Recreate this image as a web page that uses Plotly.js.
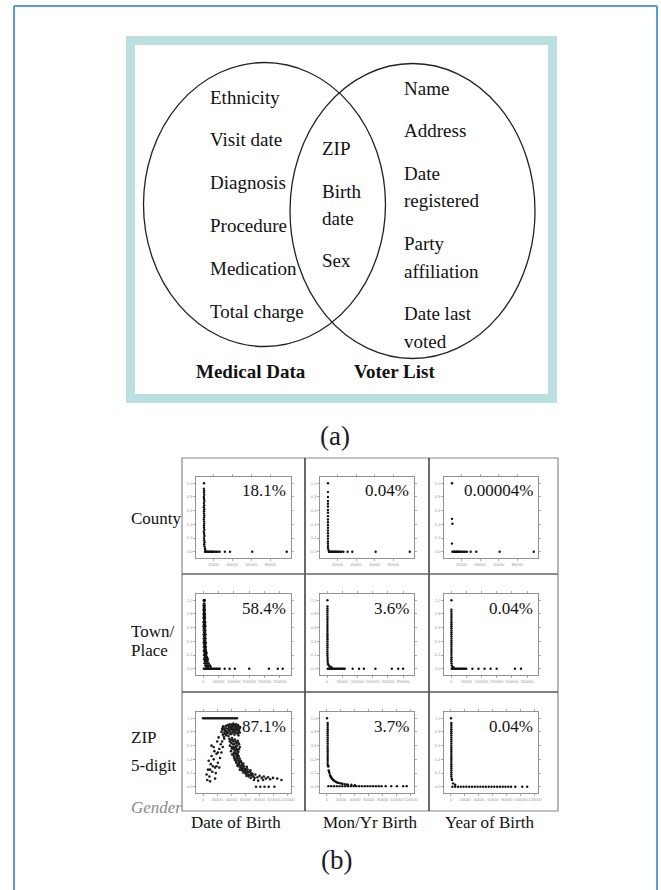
<!DOCTYPE html>
<html><head><meta charset="utf-8">
<script src="https://cdn.plot.ly/plotly-3.0.1.min.js"></script>
<style>html,body{margin:0;padding:0;background:#fff}</style>
</head><body><div id="chart" style="width:661px;height:890px"></div>
<script>
// ---------- text content ----------
const medicalOnly = ["Ethnicity","Visit date","Diagnosis","Procedure","Medication","Total charge"];
const sharedFields = ["ZIP","Birth","date","Sex"];
const voterOnly = ["Name","Address","Date","registered","Party","affiliation","Date last","voted"];
const setLabels = ["Medical Data","Voter List"];
const panelTags = ["(a)","(b)"];
const rowLabelLines = [["County"],["Town/","Place"],["ZIP","5-digit"]];
const colLabels = ["Date of Birth","Mon/Yr Birth","Year of Birth"];
const footLabel = "Gender";
const pctLabels = [["18.1%","0.04%","0.00004%"],["58.4%","3.6%","0.04%"],["87.1%","3.7%","0.04%"]];

// ---------- axis ticks ----------
const yTicks = [0,0.2,0.4,0.6,0.8,1.0];
const xTicksCounty = [20000,40000,60000,80000];
const xTicksTown = [0,50000,100000,150000,200000,250000];
const xTicksZip = [0,20000,40000,60000,80000,100000,120000];

// ---------- scatter data [population, fraction identifiable] ----------
const countyDob = [[10000,1.0],
 [9800,0.92],[10100,0.89],[9900,0.86],[10200,0.83],[9800,0.80],[10000,0.77],[10300,0.74],[9900,0.71],
 [10100,0.68],[9800,0.65],[10200,0.62],[10000,0.59],[9900,0.56],[10300,0.53],[10000,0.50],[9800,0.47],
 [10100,0.44],[10200,0.41],[9900,0.38],[10000,0.35],[10300,0.32],[9800,0.29],[10100,0.26],[10400,0.23],
 [9900,0.20],[10200,0.17],[10500,0.14],[10100,0.11],[10600,0.08],[10900,0.05],[11300,0.03],
 [11000,0],[12000,0],[13000,0],[14000,0],[15000,0],[16000,0],[17000,0],[18000,0],[19000,0],[20000,0],
 [21500,0],[23000,0],[24500,0],[26500,0],[32000,0],[37500,0],[61000,0],[97500,0]];
const countyMonYr = [[10000,1.0],
 [10000,0.87],[10000,0.80],[10000,0.74],[10000,0.70],[10000,0.66],[10000,0.61],[10000,0.57],[10000,0.52],
 [10000,0.47],[10000,0.43],[10000,0.39],[10000,0.35],[10000,0.31],[10000,0.27],[10000,0.23],[10000,0.19],
 [10000,0.15],[10000,0.12],[10000,0.09],[10000,0.06],[10500,0.03],
 [11000,0],[12000,0],[13000,0],[14000,0],[15000,0],[16000,0],[17000,0],[18000,0],[19000,0],[20000,0],
 [21500,0],[23000,0],[24500,0],[26500,0],[31000,0],[36000,0],[61000,0],[97500,0]];
const countyYear = [[10000,1.0],[10000,0.48],[10500,0.41],[10000,0.12],
 [10500,0],[11500,0],[12500,0],[13500,0],[14500,0],[15500,0],[16500,0],[17500,0],[18500,0],[19500,0],
 [21000,0],[22500,0],[24000,0],[26000,0],[30000,0],[36000,0],[61000,0],[97500,0]];

const townDob = [[2000,1.0],[3500,1.0],[5000,1.0],[2500,0.99],[4000,0.99],
 [2000,0.95],[4000,0.95],[1000,0.92],[3000,0.92],[5000,0.92],[2000,0.89],[4500,0.89],
 [1000,0.86],[3000,0.86],[5500,0.86],[2000,0.83],[4500,0.83],[1000,0.80],[3500,0.80],[6000,0.80],
 [2000,0.77],[5000,0.77],[1000,0.74],[3500,0.74],[6000,0.74],[2500,0.71],[5000,0.71],
 [1000,0.68],[4000,0.68],[6500,0.68],[2500,0.65],[5500,0.65],[1000,0.62],[4000,0.62],[7000,0.62],
 [2500,0.59],[5500,0.59],[1500,0.56],[4500,0.56],[7000,0.56],[3000,0.53],[6000,0.53],
 [1500,0.50],[4500,0.50],[7500,0.50],[3000,0.47],[6000,0.47],[1500,0.44],[4500,0.44],[8000,0.44],
 [3000,0.41],[6500,0.41],[1500,0.38],[5000,0.38],[8500,0.38],[3500,0.35],[7000,0.35],
 [2000,0.32],[5500,0.32],[9000,0.32],[4000,0.29],[7500,0.29],[2000,0.26],[6000,0.26],[9500,0.26],
 [4500,0.23],[8000,0.23],[11000,0.23],[2500,0.20],[6500,0.20],[10000,0.20],
 [5000,0.17],[9000,0.17],[12500,0.17],[3000,0.14],[7500,0.14],[11500,0.14],[15000,0.14],
 [5500,0.11],[10000,0.11],[14000,0.11],[4000,0.08],[9000,0.08],[13000,0.08],[18000,0.08],
 [7000,0.05],[12000,0.05],[17000,0.05],[22000,0.05],[10000,0.03],[16000,0.03],[24000,0.03],
 [2000,0],[6000,0],[10000,0],[14000,0],[18000,0],[22000,0],[26000,0],[30000,0],[34000,0],[38000,0],
 [42000,0],[46000,0],[50000,0],[54000,0],[70000,0],[86000,0],[103000,0],[150000,0],[214000,0],[243000,0],[259000,0]];
const townMonYr = [[1000,1.0],
 [1000,0.91],[1000,0.88],[1000,0.85],[1000,0.82],[1000,0.79],[1000,0.76],[1000,0.73],[1000,0.70],
 [1000,0.67],[1000,0.64],[1000,0.61],[1000,0.58],[1000,0.55],[1000,0.52],[1000,0.49],[1000,0.46],
 [1000,0.43],[1000,0.40],[1000,0.37],[1000,0.34],[1000,0.31],[1000,0.28],[1000,0.25],[1000,0.22],
 [1000,0.19],[1500,0.16],[1500,0.13],[2000,0.10],[2500,0.07],[4000,0.06],[7000,0.04],[10000,0.03],[15000,0.02],
 [2000,0],[6000,0],[10000,0],[14000,0],[18000,0],[22000,0],[26000,0],[30000,0],[34000,0],[38000,0],
 [42000,0],[46000,0],[50000,0],[54000,0],[58000,0],
 [84000,0],[105000,0],[121000,0],[159000,0],[213000,0],[234000,0],[250000,0]];
const townYear = [[1000,1.0],
 [1000,0.86],[1000,0.83],[1000,0.80],[1000,0.77],[1000,0.74],[1000,0.71],[1000,0.68],[1000,0.65],
 [1000,0.62],[1000,0.59],[1000,0.56],[1000,0.53],[1000,0.50],[1000,0.47],[1000,0.44],[1000,0.41],
 [1000,0.38],[1000,0.35],[1000,0.32],[1000,0.29],[1000,0.26],[1000,0.23],[1000,0.20],[1000,0.17],
 [1000,0.14],[1000,0.11],[1500,0.08],[2000,0.05],[4000,0.03],[8000,0.02],
 [2000,0],[6000,0],[10000,0],[14000,0],[18000,0],[22000,0],[26000,0],[30000,0],[34000,0],[38000,0],
 [42000,0],[46000,0],[50000,0],[70000,0],[90000,0],[110000,0],[130000,0],[150000,0],[210000,0],[230000,0]];

const zipDob = [
 [0,1],[2000,1],[4000,1],[6000,1],[8000,1],[10000,1],[12000,1],[14000,1],[16000,1],[18000,1],[20000,1],[22000,1],
 [24000,1],[26000,1],[28000,1],[30000,1],[32000,1],[34000,1],[36000,1],[38000,1],[40000,1],[42000,1],[44000,1],[46000,1],[48000,1],
 [26000,0.80],[27500,0.83],[29000,0.86],[30500,0.84],[32000,0.88],[33500,0.85],[35000,0.90],[36500,0.87],[38000,0.89],
 [39500,0.86],[41000,0.91],[42500,0.88],[44000,0.90],[45500,0.87],[47000,0.89],[48500,0.86],[50000,0.88],[51500,0.85],
 [28000,0.76],[30000,0.79],[32500,0.81],[34500,0.78],[37000,0.82],[39000,0.80],[41500,0.83],[43500,0.81],[46000,0.84],
 [48000,0.82],[50500,0.80],[29500,0.73],[33000,0.75],[36000,0.74],[40000,0.77],[44500,0.76],[49000,0.78],
 [27000,0.85],[28500,0.88],[31000,0.82],[33000,0.89],[34000,0.80],[36000,0.84],[37500,0.91],[39000,0.84],[40500,0.89],
 [42000,0.85],[43000,0.92],[44500,0.83],[46500,0.91],[47500,0.84],[49500,0.90],[51000,0.83],[52500,0.87],
 [31500,0.77],[35500,0.79],[38500,0.77],[42500,0.79],[45000,0.80],[47500,0.78],[50000,0.75],[52000,0.79],
 [37000,0.70],[39000,0.68],[41000,0.71],[43000,0.66],[45000,0.69],[47000,0.64],[49000,0.67],[51000,0.62],
 [38000,0.66],[40000,0.64],[42000,0.68],[44000,0.62],[46000,0.66],[48000,0.60],[50000,0.64],[52000,0.58],
 [38000,0.60],[40500,0.58],[42500,0.62],[44500,0.56],[46500,0.59],[48500,0.54],
 [41000,0.56],[43000,0.58],[45000,0.53],[47000,0.56],[49000,0.52],[51000,0.55],
 [39500,0.52],[42000,0.55],[44000,0.50],[46000,0.53],[48000,0.48],[50000,0.51],
 [41000,0.47],[43500,0.45],[45500,0.49],[47500,0.44],[49500,0.46],[43000,0.48],[46500,0.47],[48500,0.49],[50500,0.44],
 [44000,0.42],[46000,0.40],[48000,0.43],[50000,0.38],[52000,0.41],[54000,0.36],
 [45000,0.39],[47000,0.37],[49000,0.41],[51000,0.35],[53000,0.38],[55000,0.33],
 [47000,0.35],[49500,0.33],[52000,0.36],[54500,0.31],[57000,0.34],
 [48500,0.31],[51000,0.32],[53500,0.29],[56000,0.27],[58000,0.30],
 [50000,0.30],[53000,0.28],[56000,0.31],[59000,0.26],[62000,0.29],
 [52000,0.25],[55000,0.24],[57500,0.27],[60000,0.23],[63000,0.25],
 [55000,0.25],[58000,0.23],[61000,0.26],[64000,0.21],[67000,0.24],
 [57000,0.21],[60500,0.19],[62500,0.22],[65000,0.17],[68000,0.20],
 [60000,0.20],[63000,0.18],[66000,0.22],[70000,0.19],
 [61500,0.16],[64500,0.15],[67500,0.13],[70000,0.16],[73000,0.13],
 [68000,0.17],[71000,0.15],[74000,0.18],[77000,0.14],[80000,0.16],[83000,0.13],[86000,0.15],[89000,0.12],
 [92000,0.14],[95000,0.11],[99000,0.13],[72000,0.10],[78000,0.09],[85000,0.10],[105000,0.12],[111000,0.10],
 [75000,0],[81000,0],[87000,0],[93000,0],[101000,0],
 [5000,0.18],[7000,0.25],[9000,0.15],[11000,0.33],[13000,0.22],[15000,0.40],[17000,0.28],[19000,0.48],
 [21000,0.35],[23000,0.55],[25000,0.62],[12000,0.45],[16000,0.52],[20000,0.66],[24000,0.42],[28000,0.58],
 [30000,0.70],[8000,0.38],[14000,0.30],[18000,0.20],[22000,0.72],[26000,0.50],[6000,0.10],[10000,0.08],
 [10000,0.25],[15000,0.58],[19000,0.30],[21000,0.50],[27000,0.66],[23000,0.28],[17000,0.12],[12000,0.60]];
const zipMonYr = [[0,1.0],
 [1000,0.93],[1000,0.90],[1000,0.87],[1000,0.84],[1000,0.81],[1000,0.78],[1000,0.75],[1000,0.72],
 [1000,0.69],[1000,0.66],[1000,0.63],[1000,0.60],[1000,0.57],[1000,0.54],[1000,0.51],[1000,0.48],
 [1000,0.45],[1000,0.42],[1000,0.39],[1000,0.36],[1000,0.33],[1500,0.30],[2500,0.24],[3500,0.20],
 [4500,0.17],[6000,0.14],[8000,0.11],[10000,0.09],[13000,0.07],[17000,0.055],[22000,0.045],[28000,0.035],
 [2000,0.30],[3000,0.22],[5000,0.15],[7000,0.12],[9000,0.10],[12000,0.08],[15000,0.06],[20000,0.05],
 [25000,0.04],[30000,0.03],[35000,0.03],[40000,0.025],
 [2000,0.01],[6000,0.01],[10000,0.01],[14000,0.01],[18000,0.01],[22000,0.01],[26000,0.01],[30000,0.01],
 [34000,0.01],[38000,0.01],[42000,0.01],[46000,0.01],[50000,0.01],[54000,0.01],[58000,0.01],[62000,0.01],
 [66000,0.01],[70000,0.01],[74000,0.01],[78000,0.01],[84000,0.01],[92000,0.01],[100000,0.01],[109000,0.01],[114000,0.01]];
const zipYear = [[0,1.0],
 [500,0.93],[500,0.90],[500,0.87],[500,0.84],[500,0.81],[500,0.78],[500,0.75],[500,0.72],
 [500,0.69],[500,0.66],[500,0.63],[500,0.60],[500,0.57],[500,0.54],[500,0.51],[500,0.48],
 [500,0.45],[500,0.42],[500,0.39],[500,0.36],[500,0.33],[500,0.30],[500,0.27],[500,0.24],
 [500,0.21],[500,0.18],[500,0.15],[1000,0.12],[1500,0.10],[3000,0.05],[6000,0.03],
 [2000,0],[6000,0],[10000,0],[14000,0],[18000,0],[22000,0],[26000,0],[30000,0],[34000,0],[38000,0],
 [42000,0],[46000,0],[50000,0],[54000,0],[58000,0],[62000,0],[66000,0],[70000,0],[74000,0],[78000,0],
 [82000,0],[86000,0],[92000,0],[102000,0],[109000,0]];

const panelData = [[countyDob,countyMonYr,countyYear],[townDob,townMonYr,townYear],[zipDob,zipMonYr,zipYear]];
const xRanges = [[1500,102000],[-23500,286000],[-10000,124500]];
const xTickSets = [xTicksCounty,xTicksTown,xTicksZip];

// ---------- layout geometry (pixels) ----------
const W=661,H=890;
const PX=v=>v/W, PY=v=>1-v/H;
const SERIF="Liberation Serif, Times New Roman, serif";
const colBox=[[196,291],[320,414],[444,538]];
const rowBox=[[477,558],[594,675],[712,793]];

const traces=[]; const layout={
  width:W,height:H,autosize:false,margin:{l:0,r:0,t:0,b:0},
  paper_bgcolor:'#fff',plot_bgcolor:'#fff',showlegend:false,
  font:{family:SERIF,color:'#111'},shapes:[],annotations:[]
};

let k=0;
for(let r=0;r<3;r++){for(let c=0;c<3;c++){
  k++; const s=k===1?'':String(k);
  const pts=panelData[r][c];
  const cloud=(r===2&&c===0);
  traces.push({type:'scatter',mode:'markers',x:pts.map(p=>p[0]),y:pts.map(p=>p[1]),
    xaxis:'x'+s,yaxis:'y'+s,hoverinfo:'skip',cliponaxis:true,
    marker:{size:cloud?2.6:2.4,color:cloud?'#1e1e1e':'#111'}});
  const common={showline:true,linecolor:'#777',linewidth:0.8,mirror:'allticks',ticks:'outside',
    ticklen:2,tickwidth:0.6,tickcolor:'#777',showgrid:false,zeroline:false,fixedrange:true,tickangle:0,
    tickfont:{size:4,color:'#999',family:'Liberation Sans, Arial, sans-serif'}};
  layout['xaxis'+s]=Object.assign({},common,{domain:[PX(colBox[c][0]),PX(colBox[c][1])],
    range:xRanges[r],anchor:'y'+s,tickvals:xTickSets[r],tickformat:'d'});
  layout['yaxis'+s]=Object.assign({},common,{domain:[PY(rowBox[r][1]),PY(rowBox[r][0])],
    range:[-0.09,1.09],anchor:'x'+s,tickvals:yTicks,tickformat:'.1f'});
  layout.annotations.push({xref:'paper',yref:'paper',x:PX(colBox[c][1]-3),y:PY(rowBox[r][0]+14),
    text:pctLabels[r][c],showarrow:false,xanchor:'right',yanchor:'middle',
    font:{family:SERIF,size:17,color:'#111'}});
}}

// shapes
const S=layout.shapes;
const line=(x0,y0,x1,y1,color,w)=>S.push({type:'line',xref:'paper',yref:'paper',x0:PX(x0),y0:PY(y0),x1:PX(x1),y1:PY(y1),line:{color,width:w},layer:'below'});
// outer blue frame
line(14,6,14,895,'#5b9bd5',2); line(14,6,657,6,'#5b9bd5',2); line(657,6,657,895,'#5b9bd5',2);
// venn box
S.push({type:'rect',xref:'paper',yref:'paper',x0:PX(130.5),x1:PX(552.5),y0:PY(40.5),y1:PY(398.5),line:{color:'#bcdfe2',width:9},fillcolor:'rgba(0,0,0,0)',layer:'below'});
// ellipses
S.push({type:'circle',xref:'paper',yref:'paper',x0:PX(143.5),x1:PX(385.5),y0:PY(62.5),y1:PY(346.5),line:{color:'#222',width:1.3}});
S.push({type:'circle',xref:'paper',yref:'paper',x0:PX(290),x1:PX(535),y0:PY(63.5),y1:PY(358.5),line:{color:'#222',width:1.3}});
// grid
S.push({type:'rect',xref:'paper',yref:'paper',x0:PX(182),x1:PX(558),y0:PY(458),y1:PY(811),line:{color:'#888',width:1.2},layer:'below'});
line(305,458,305,811,'#444',1.6); line(429,458,429,811,'#444',1.6);
line(182,574,558,574,'#666',1.3); line(182,692,558,692,'#555',1.6);

// annotations
const A=layout.annotations;
const txt=(t,x,y,o={})=>A.push({xref:'paper',yref:'paper',x:PX(x),y:PY(y),text:t,showarrow:false,
  xanchor:o.xa||'left',yanchor:'middle',font:{family:SERIF,size:o.size||19,color:o.color||'#111'}});
const medY=[98,140,183,225,268,311];
medicalOnly.forEach((t,i)=>txt(t,208,medY[i]));
const shY=[148,191,218,260];
sharedFields.forEach((t,i)=>txt(t,320,shY[i]));
const voY=[88,130,173,200,243,272,314,342];
voterOnly.forEach((t,i)=>txt(t,402,voY[i]));
txt('<b>'+setLabels[0]+'</b>',251,371,{xa:'center'});
txt('<b>'+setLabels[1]+'</b>',395,371,{xa:'center'});
txt(panelTags[0],335,436,{xa:'center',size:27,color:'#1b1b2a'});
txt(panelTags[1],336,860,{xa:'center',size:27,color:'#1b1b2a'});
const rowLineY=[[518],[631,650],[737,765]];
rowLabelLines.forEach((ls,r)=>ls.forEach((t,j)=>txt(t,129,rowLineY[r][j],{size:17})));
A.push({xref:'paper',yref:'paper',x:PX(129),y:PY(807),text:'<i>'+footLabel+'</i>',showarrow:false,
  xanchor:'left',yanchor:'middle',font:{family:SERIF,size:17,color:'#8a8a8a'}});
const colX=[236,370,489];
colLabels.forEach((t,i)=>txt(t,colX[i],822,{xa:'center',size:17}));

Plotly.newPlot('chart',traces,layout,{staticPlot:true,displayModeBar:false});
</script></body></html>
